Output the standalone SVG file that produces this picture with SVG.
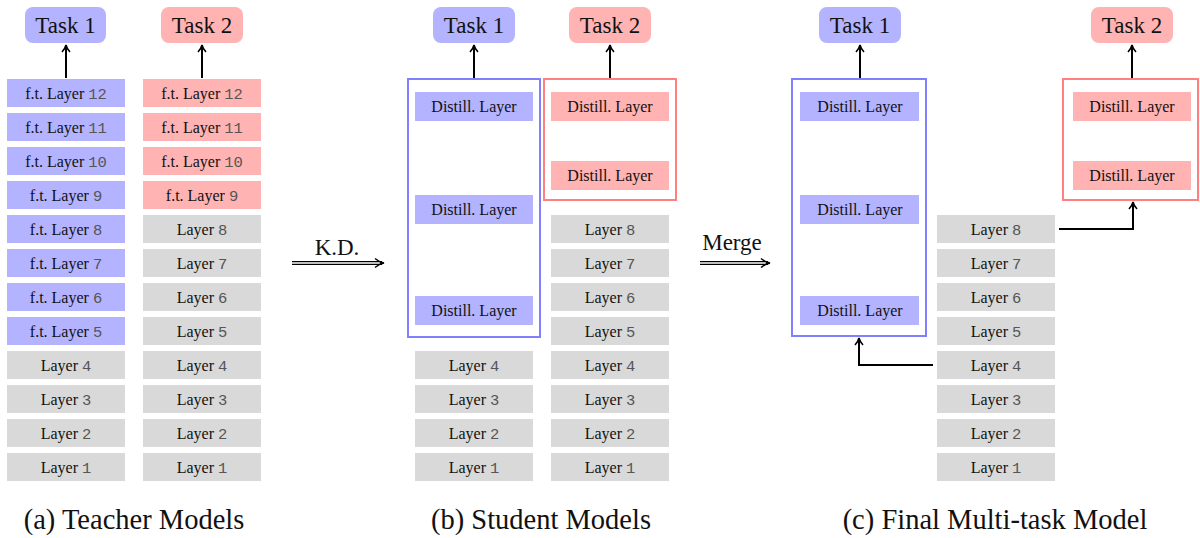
<svg xmlns="http://www.w3.org/2000/svg" width="1200" height="538" viewBox="0 0 1200 538">
<style>
.t{font-family:"Liberation Serif","Times New Roman",serif;font-size:16px;fill:#111;text-anchor:middle}
.m{font-family:"Liberation Mono",monospace;font-size:15.5px;fill:#555}
.task{font-family:"Liberation Serif","Times New Roman",serif;font-size:23px;fill:#111;text-anchor:middle}
.cap{font-family:"Liberation Serif","Times New Roman",serif;font-size:28.5px;fill:#111;text-anchor:middle}
.lbl{font-family:"Liberation Serif","Times New Roman",serif;font-size:23px;fill:#111;text-anchor:middle}
.b{fill:#b3b3ff}
.r{fill:#ffb3b3}
.g{fill:#d9d9d9}
.bf{fill:none;stroke:#8080ff;stroke-width:2}
.rf{fill:none;stroke:#ff8080;stroke-width:2}
.ar{fill:none;stroke:#000;stroke-width:2;marker-end:url(#ah)}
</style>
<defs>
<marker id="ah" markerWidth="10" markerHeight="10" refX="7" refY="5" orient="auto" markerUnits="userSpaceOnUse">
<path d="M1,1 Q4,4 8,5 Q4,6 1,9" fill="none" stroke="#000" stroke-width="1.6"/>
</marker>
<marker id="dh" markerWidth="12" markerHeight="12" refX="10" refY="6" orient="auto" markerUnits="userSpaceOnUse">
<path d="M2,1.5 Q6,5 11,6 Q6,7 2,10.5" fill="none" stroke="#000" stroke-width="1.4"/>
</marker>
</defs>

<!-- (a) Teacher -->
<g id="a-task1"><rect x="25" y="7" width="81" height="36" rx="8" class="b"/><text x="65.5" y="33" class="task">Task 1</text></g>
<g id="a-task2"><rect x="161" y="7" width="82" height="36" rx="8" class="r"/><text x="202" y="33" class="task">Task 2</text></g>
<g id="a1">
<rect x="7" y="79" width="118" height="28" class="b"/><text x="66" y="98.5" class="t">f.t. Layer <tspan class="m">12</tspan></text>
<rect x="7" y="113" width="118" height="28" class="b"/><text x="66" y="132.5" class="t">f.t. Layer <tspan class="m">11</tspan></text>
<rect x="7" y="147" width="118" height="28" class="b"/><text x="66" y="166.5" class="t">f.t. Layer <tspan class="m">10</tspan></text>
<rect x="7" y="181" width="118" height="28" class="b"/><text x="66" y="200.5" class="t">f.t. Layer <tspan class="m">9</tspan></text>
<rect x="7" y="215" width="118" height="28" class="b"/><text x="66" y="234.5" class="t">f.t. Layer <tspan class="m">8</tspan></text>
<rect x="7" y="249" width="118" height="28" class="b"/><text x="66" y="268.5" class="t">f.t. Layer <tspan class="m">7</tspan></text>
<rect x="7" y="283" width="118" height="28" class="b"/><text x="66" y="302.5" class="t">f.t. Layer <tspan class="m">6</tspan></text>
<rect x="7" y="317" width="118" height="28" class="b"/><text x="66" y="336.5" class="t">f.t. Layer <tspan class="m">5</tspan></text>
<rect x="7" y="351" width="118" height="28" class="g"/><text x="66" y="370.5" class="t">Layer <tspan class="m">4</tspan></text>
<rect x="7" y="385" width="118" height="28" class="g"/><text x="66" y="404.5" class="t">Layer <tspan class="m">3</tspan></text>
<rect x="7" y="419" width="118" height="28" class="g"/><text x="66" y="438.5" class="t">Layer <tspan class="m">2</tspan></text>
<rect x="7" y="453" width="118" height="28" class="g"/><text x="66" y="472.5" class="t">Layer <tspan class="m">1</tspan></text>
</g>
<g id="a2">
<rect x="143" y="79" width="118" height="28" class="r"/><text x="202" y="98.5" class="t">f.t. Layer <tspan class="m">12</tspan></text>
<rect x="143" y="113" width="118" height="28" class="r"/><text x="202" y="132.5" class="t">f.t. Layer <tspan class="m">11</tspan></text>
<rect x="143" y="147" width="118" height="28" class="r"/><text x="202" y="166.5" class="t">f.t. Layer <tspan class="m">10</tspan></text>
<rect x="143" y="181" width="118" height="28" class="r"/><text x="202" y="200.5" class="t">f.t. Layer <tspan class="m">9</tspan></text>
<rect x="143" y="215" width="118" height="28" class="g"/><text x="202" y="234.5" class="t">Layer <tspan class="m">8</tspan></text>
<rect x="143" y="249" width="118" height="28" class="g"/><text x="202" y="268.5" class="t">Layer <tspan class="m">7</tspan></text>
<rect x="143" y="283" width="118" height="28" class="g"/><text x="202" y="302.5" class="t">Layer <tspan class="m">6</tspan></text>
<rect x="143" y="317" width="118" height="28" class="g"/><text x="202" y="336.5" class="t">Layer <tspan class="m">5</tspan></text>
<rect x="143" y="351" width="118" height="28" class="g"/><text x="202" y="370.5" class="t">Layer <tspan class="m">4</tspan></text>
<rect x="143" y="385" width="118" height="28" class="g"/><text x="202" y="404.5" class="t">Layer <tspan class="m">3</tspan></text>
<rect x="143" y="419" width="118" height="28" class="g"/><text x="202" y="438.5" class="t">Layer <tspan class="m">2</tspan></text>
<rect x="143" y="453" width="118" height="28" class="g"/><text x="202" y="472.5" class="t">Layer <tspan class="m">1</tspan></text>
</g>

<!-- (b) Student -->
<g id="b-task1"><rect x="433" y="7" width="82" height="36" rx="8" class="b"/><text x="474" y="33" class="task">Task 1</text></g>
<g id="b-task2"><rect x="569" y="7" width="82" height="36" rx="8" class="r"/><text x="610" y="33" class="task">Task 2</text></g>
<g id="b1">
<rect x="408" y="79" width="132" height="258" class="bf"/>
<rect x="415" y="92" width="118" height="29" class="b"/><text x="474" y="111.5" class="t">Distill. Layer</text>
<rect x="415" y="195" width="118" height="29" class="b"/><text x="474" y="214.5" class="t">Distill. Layer</text>
<rect x="415" y="296" width="118" height="29" class="b"/><text x="474" y="315.5" class="t">Distill. Layer</text>
<rect x="415" y="351" width="118" height="28" class="g"/><text x="474" y="370.5" class="t">Layer <tspan class="m">4</tspan></text>
<rect x="415" y="385" width="118" height="28" class="g"/><text x="474" y="404.5" class="t">Layer <tspan class="m">3</tspan></text>
<rect x="415" y="419" width="118" height="28" class="g"/><text x="474" y="438.5" class="t">Layer <tspan class="m">2</tspan></text>
<rect x="415" y="453" width="118" height="28" class="g"/><text x="474" y="472.5" class="t">Layer <tspan class="m">1</tspan></text>
</g>
<g id="b2">
<rect x="544" y="79" width="132" height="121" class="rf"/>
<rect x="551" y="92" width="118" height="29" class="r"/><text x="610" y="111.5" class="t">Distill. Layer</text>
<rect x="551" y="161" width="118" height="29" class="r"/><text x="610" y="180.5" class="t">Distill. Layer</text>
<rect x="551" y="215" width="118" height="28" class="g"/><text x="610" y="234.5" class="t">Layer <tspan class="m">8</tspan></text>
<rect x="551" y="249" width="118" height="28" class="g"/><text x="610" y="268.5" class="t">Layer <tspan class="m">7</tspan></text>
<rect x="551" y="283" width="118" height="28" class="g"/><text x="610" y="302.5" class="t">Layer <tspan class="m">6</tspan></text>
<rect x="551" y="317" width="118" height="28" class="g"/><text x="610" y="336.5" class="t">Layer <tspan class="m">5</tspan></text>
<rect x="551" y="351" width="118" height="28" class="g"/><text x="610" y="370.5" class="t">Layer <tspan class="m">4</tspan></text>
<rect x="551" y="385" width="118" height="28" class="g"/><text x="610" y="404.5" class="t">Layer <tspan class="m">3</tspan></text>
<rect x="551" y="419" width="118" height="28" class="g"/><text x="610" y="438.5" class="t">Layer <tspan class="m">2</tspan></text>
<rect x="551" y="453" width="118" height="28" class="g"/><text x="610" y="472.5" class="t">Layer <tspan class="m">1</tspan></text>
</g>

<!-- (c) Final -->
<g id="c-task1"><rect x="819" y="7" width="82" height="36" rx="8" class="b"/><text x="860" y="33" class="task">Task 1</text></g>
<g id="c-task2"><rect x="1091" y="7" width="82" height="36" rx="8" class="r"/><text x="1132" y="33" class="task">Task 2</text></g>
<g id="c1">
<rect x="792" y="79" width="134" height="257" class="bf"/>
<rect x="800" y="92" width="119" height="29" class="b"/><text x="860" y="111.5" class="t">Distill. Layer</text>
<rect x="800" y="195" width="119" height="29" class="b"/><text x="860" y="214.5" class="t">Distill. Layer</text>
<rect x="800" y="296" width="119" height="29" class="b"/><text x="860" y="315.5" class="t">Distill. Layer</text>
</g>
<g id="c-shared">
<rect x="937" y="215" width="118" height="28" class="g"/><text x="996" y="234.5" class="t">Layer <tspan class="m">8</tspan></text>
<rect x="937" y="249" width="118" height="28" class="g"/><text x="996" y="268.5" class="t">Layer <tspan class="m">7</tspan></text>
<rect x="937" y="283" width="118" height="28" class="g"/><text x="996" y="302.5" class="t">Layer <tspan class="m">6</tspan></text>
<rect x="937" y="317" width="118" height="28" class="g"/><text x="996" y="336.5" class="t">Layer <tspan class="m">5</tspan></text>
<rect x="937" y="351" width="118" height="28" class="g"/><text x="996" y="370.5" class="t">Layer <tspan class="m">4</tspan></text>
<rect x="937" y="385" width="118" height="28" class="g"/><text x="996" y="404.5" class="t">Layer <tspan class="m">3</tspan></text>
<rect x="937" y="419" width="118" height="28" class="g"/><text x="996" y="438.5" class="t">Layer <tspan class="m">2</tspan></text>
<rect x="937" y="453" width="118" height="28" class="g"/><text x="996" y="472.5" class="t">Layer <tspan class="m">1</tspan></text>
</g>
<g id="c2">
<rect x="1063" y="79" width="135" height="121" class="rf"/>
<rect x="1073" y="92" width="118" height="29" class="r"/><text x="1132" y="111.5" class="t">Distill. Layer</text>
<rect x="1073" y="161" width="118" height="29" class="r"/><text x="1132" y="180.5" class="t">Distill. Layer</text>
</g>

<!-- connectors -->
<g id="connectors">
<path d="M66,78 V46" class="ar"/>
<path d="M202,78 V46" class="ar"/>
<path d="M474,78 V46" class="ar"/>
<path d="M610,78 V46" class="ar"/>
<path d="M860,78 V46" class="ar"/>
<path d="M1132,78 V46" class="ar"/>
<path d="M1059,229 H1133 V203" class="ar"/>
<path d="M933,365 H859 V339" class="ar"/>
<path d="M292,263 H382" fill="none" stroke="#000" stroke-width="4"/>
<path d="M292,263 H380" fill="none" stroke="#fff" stroke-width="1.4"/>
<path d="M372,263 H383" fill="none" stroke="none" marker-end="url(#dh)"/>
<path d="M700,263 H768" fill="none" stroke="#000" stroke-width="4"/>
<path d="M700,263 H766" fill="none" stroke="#fff" stroke-width="1.4"/>
<path d="M758,263 H769" fill="none" stroke="none" marker-end="url(#dh)"/>
<text x="337" y="255" class="lbl">K.D.</text>
<text x="732" y="250" class="lbl">Merge</text>
</g>

<!-- captions -->
<text x="134" y="529" class="cap">(a) Teacher Models</text>
<text x="541" y="529" class="cap">(b) Student Models</text>
<text x="995" y="529" class="cap">(c) Final Multi-task Model</text>
</svg>
